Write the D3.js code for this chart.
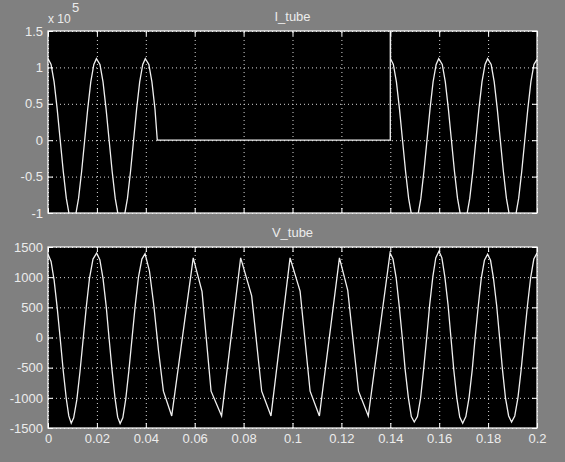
<!DOCTYPE html>
<html>
<head>
<meta charset="utf-8">
<script src="https://cdnjs.cloudflare.com/ajax/libs/d3/7.8.5/d3.min.js"></script>
<style>
  body { margin: 0; background: #808080; }
  svg { display: block; }
</style>
</head>
<body>
<script>
'use strict';

// tick values
const xTicks = [0, 0.02, 0.04, 0.06, 0.08, 0.1, 0.12, 0.14, 0.16, 0.18, 0.2];
const iTicks = [-1, -0.5, 0, 0.5, 1, 1.5];
const vTicks = [-1500, -1000, -500, 0, 500, 1000, 1500];

// I_tube, time (s) and current (x 10^5)
const iTubeT = [
  0, 0.00125, 0.0025, 0.00375, 0.005, 0.00625, 0.0075, 0.00875, 0.01, 0.01125,
  0.0125, 0.01375, 0.015, 0.01625, 0.0175, 0.01875, 0.0198, 0.02125, 0.0225, 0.02375,
  0.025, 0.02625, 0.0275, 0.02875, 0.03, 0.03125, 0.0325, 0.03375, 0.035, 0.03625,
  0.0375, 0.03875, 0.0398, 0.04125, 0.0425, 0.04375, 0.0447, 0.14, 0.14, 0.1401,
  0.14125, 0.1425, 0.14375, 0.145, 0.14625, 0.1475, 0.14875, 0.15, 0.15125, 0.1525,
  0.15375, 0.155, 0.15625, 0.1575, 0.15875, 0.1598, 0.16125, 0.1625, 0.16375, 0.165,
  0.16625, 0.1675, 0.16875, 0.17, 0.17125, 0.1725, 0.17375, 0.175, 0.17625, 0.1775,
  0.17875, 0.1798, 0.18125, 0.1825, 0.18375, 0.185, 0.18625, 0.1875, 0.18875, 0.19,
  0.19125, 0.1925, 0.19375, 0.195, 0.19625, 0.1975, 0.19875, 0.2
];
const iTubeV = [
  1.12, 1.04, 0.80, 0.43, 0.00, -0.43, -0.80, -1.04, -1.13, -1.04,
  -0.80, -0.43, 0.00, 0.43, 0.80, 1.04, 1.12, 1.04, 0.80, 0.43,
  0.00, -0.43, -0.80, -1.04, -1.13, -1.04, -0.80, -0.43, 0.00, 0.43,
  0.80, 1.04, 1.12, 1.04, 0.80, 0.43, 0.00, 0.00, 3.00, 1.12,
  1.04, 0.80, 0.43, 0.00, -0.43, -0.80, -1.04, -1.13, -1.04, -0.80,
  -0.43, 0.00, 0.43, 0.80, 1.04, 1.12, 1.04, 0.80, 0.43, 0.00,
  -0.43, -0.80, -1.04, -1.13, -1.04, -0.80, -0.43, 0.00, 0.43, 0.80,
  1.04, 1.12, 1.04, 0.80, 0.43, 0.00, -0.43, -0.80, -1.04, -1.13,
  -1.04, -0.80, -0.43, 0.00, 0.43, 0.80, 1.04, 1.11
];

// V_tube, time (s) and voltage
const vTubeT = [
  0, 0.00125, 0.0025, 0.00375, 0.005, 0.00625, 0.0075, 0.0085, 0.0095, 0.0105,
  0.0118, 0.0131, 0.0144, 0.0157, 0.017, 0.0184, 0.0199, 0.0212, 0.0225, 0.0238,
  0.025, 0.0262, 0.0274, 0.0285, 0.0295, 0.0306, 0.0318, 0.0331, 0.0344, 0.0357,
  0.037, 0.0384, 0.0397, 0.0415, 0.0432, 0.0452, 0.0472, 0.0506, 0.0594, 0.063,
  0.0667, 0.071, 0.0788, 0.0833, 0.0874, 0.0912, 0.099, 0.1031, 0.1072, 0.111,
  0.1192, 0.1226, 0.127, 0.131, 0.1399, 0.1411, 0.1424, 0.1436, 0.1449, 0.1461,
  0.1474, 0.1486, 0.1498, 0.1511, 0.1524, 0.1536, 0.1549, 0.1561, 0.1574, 0.1586,
  0.1599, 0.1611, 0.1623, 0.1636, 0.1648, 0.166, 0.1672, 0.1684, 0.1696, 0.1709,
  0.1722, 0.1735, 0.1747, 0.176, 0.1772, 0.1785, 0.1798, 0.181, 0.1822, 0.1835,
  0.1847, 0.1859, 0.1871, 0.1884, 0.1896, 0.1909, 0.1922, 0.1935, 0.1948, 0.1961,
  0.1974, 0.1987, 0.2
];
const vTubeV = [
  1380, 1260, 950, 500, -20, -560, -1020, -1300, -1420, -1330,
  -1030, -560, -20, 520, 990, 1300, 1400, 1290, 980, 520,
  -20, -540, -1000, -1320, -1425, -1330, -1020, -540, 0, 540,
  1000, 1300, 1390, 1100, 560, -220, -890, -1300, 1320, 760,
  -890, -1300, 1320, 690, -890, -1300, 1320, 770, -890, -1300,
  1320, 780, -890, -1300, 1400, 1300, 990, 540, 0, -540,
  -1000, -1310, -1400, -1310, -1000, -540, 0, 540, 1010, 1320,
  1430, 1320, 1010, 550, 0, -550, -1000, -1320, -1420, -1310,
  -1000, -540, 0, 530, 980, 1280, 1380, 1280, 980, 530,
  0, -540, -1000, -1300, -1400, -1300, -1000, -540, 0, 530,
  990, 1300, 1400
];

(function() {

  let svgContainer = "";

  const textColor = "#ececec";
  const fontFamily = "'Liberation Sans', Arial, sans-serif";
  const plotLeft = 48;
  const plotRight = 537;

  window.onload = function() {
    svgContainer = d3.select('body')
      .append('svg')
      .attr('width', 565)
      .attr('height', 462);

    svgContainer.append('rect')
      .attr('width', 565)
      .attr('height', 462)
      .attr('fill', '#808080');

    // current panel
    drawPanel({
      id: 'itube', top: 31, bottom: 213, domain: [-1, 1.5], ticks: iTicks,
      title: 'I_tube', xLabels: false, t: iTubeT, v: iTubeV
    });

    // voltage panel
    drawPanel({
      id: 'vtube', top: 247, bottom: 428, domain: [-1500, 1500], ticks: vTicks,
      title: 'V_tube', xLabels: true, t: vTubeT, v: vTubeV
    });

    // exponent of the current axis
    svgContainer.append('text')
      .attr('x', 48)
      .attr('y', 23)
      .attr('fill', textColor)
      .style('font-family', fontFamily)
      .style('font-size', '12px')
      .text('x 10');

    svgContainer.append('text')
      .attr('x', 72)
      .attr('y', 12)
      .attr('fill', textColor)
      .style('font-family', fontFamily)
      .style('font-size', '13px')
      .text('5');
  }

  function styleAxis(g) {
    g.select('.domain').remove();
    g.selectAll('line').attr('stroke', '#ffffff');
    g.selectAll('text')
      .attr('fill', textColor)
      .style('font-family', fontFamily)
      .style('font-size', '13px');
  }

  function drawPanel(p) {
    let xScale = d3.scaleLinear()
      .domain([0, 0.2])
      .range([plotLeft, plotRight]);

    let yScale = d3.scaleLinear()
      .domain(p.domain)
      .range([p.bottom, p.top]);

    let w = plotRight - plotLeft;
    let h = p.bottom - p.top;

    svgContainer.append('rect')
      .attr('x', plotLeft)
      .attr('y', p.top)
      .attr('width', w)
      .attr('height', h)
      .attr('fill', '#000000');

    // dotted grid
    let gridX = svgContainer.append('g')
      .attr('transform', 'translate(0,' + p.bottom + ')')
      .call(d3.axisBottom(xScale).tickValues(xTicks).tickSize(-h).tickFormat(''));
    let gridY = svgContainer.append('g')
      .attr('transform', 'translate(' + plotLeft + ',0)')
      .call(d3.axisLeft(yScale).tickValues(p.ticks).tickSize(-w).tickFormat(''));
    [gridX, gridY].forEach(function(g) {
      g.select('.domain').remove();
      g.selectAll('line')
        .attr('stroke', '#d8d8d8')
        .attr('stroke-width', 1)
        .attr('stroke-dasharray', '1,3');
    });

    // trace, clipped to the axes box
    svgContainer.append('clipPath')
      .attr('id', 'clip-' + p.id)
      .append('rect')
        .attr('x', plotLeft)
        .attr('y', p.top)
        .attr('width', w)
        .attr('height', h);

    let line = d3.line()
      .x(function(d) { return xScale(d[0]); })
      .y(function(d) { return yScale(d[1]); });

    svgContainer.append('path')
      .datum(d3.zip(p.t, p.v))
      .attr('clip-path', 'url(#clip-' + p.id + ')')
      .attr('fill', 'none')
      .attr('stroke', '#f0f0f0')
      .attr('stroke-width', 1.3)
      .attr('d', line);

    // box
    svgContainer.append('rect')
      .attr('x', plotLeft)
      .attr('y', p.top)
      .attr('width', w)
      .attr('height', h)
      .attr('fill', 'none')
      .attr('stroke', '#ffffff')
      .attr('stroke-width', 1.2);

    // ticks pointing inwards
    let left = svgContainer.append('g')
      .attr('transform', 'translate(' + plotLeft + ',0)')
      .call(d3.axisLeft(yScale).tickValues(p.ticks).tickSizeInner(-5).tickSizeOuter(0)
        .tickPadding(5).tickFormat(function(d) { return String(d); }));
    styleAxis(left);

    let right = svgContainer.append('g')
      .attr('transform', 'translate(' + plotRight + ',0)')
      .call(d3.axisRight(yScale).tickValues(p.ticks).tickSizeInner(-5).tickSizeOuter(0).tickFormat(''));
    styleAxis(right);

    let topAxis = svgContainer.append('g')
      .attr('transform', 'translate(0,' + p.top + ')')
      .call(d3.axisTop(xScale).tickValues(xTicks).tickSizeInner(-5).tickSizeOuter(0).tickFormat(''));
    styleAxis(topAxis);

    let bottomAxis = svgContainer.append('g')
      .attr('transform', 'translate(0,' + p.bottom + ')')
      .call(d3.axisBottom(xScale).tickValues(xTicks).tickSizeInner(-5).tickSizeOuter(0)
        .tickPadding(6).tickFormat(function(d) { return p.xLabels ? String(d) : ''; }));
    styleAxis(bottomAxis);

    svgContainer.append('text')
      .attr('x', (plotLeft + plotRight) / 2)
      .attr('y', p.top - 10)
      .attr('text-anchor', 'middle')
      .attr('fill', textColor)
      .style('font-family', fontFamily)
      .style('font-size', '13px')
      .text(p.title);
  }

})();
</script>
</body>
</html>
